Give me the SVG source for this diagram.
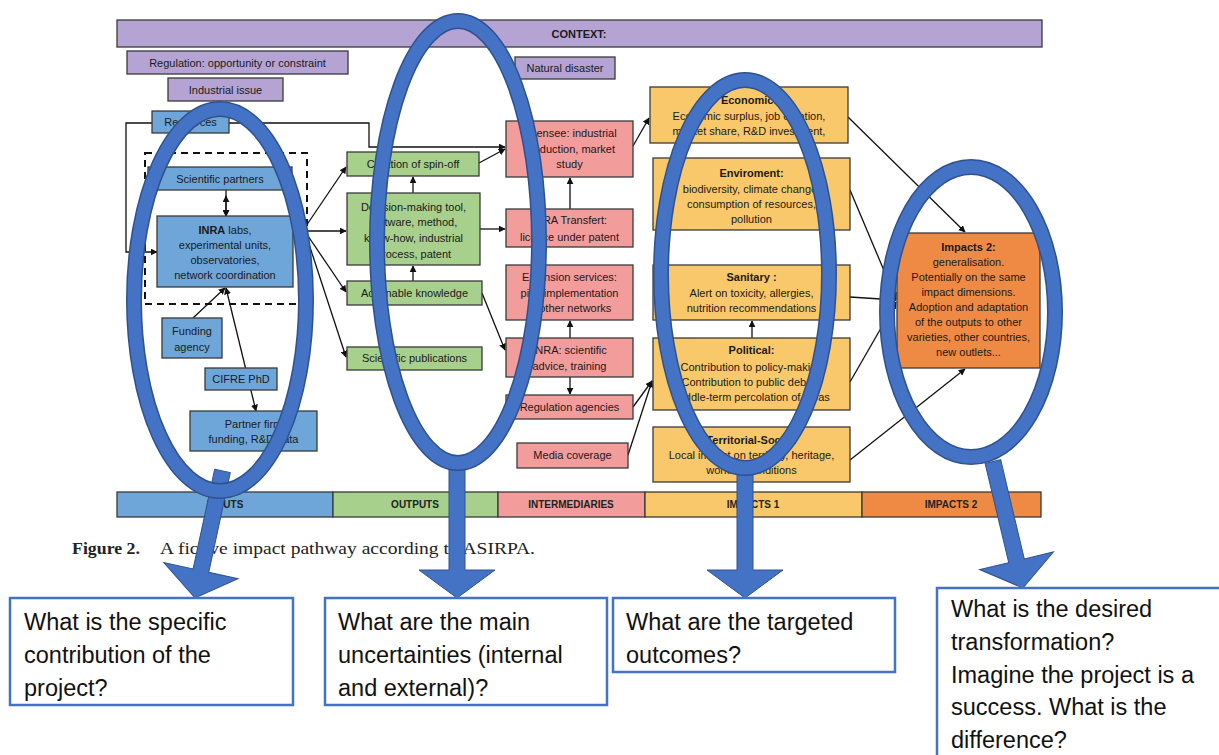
<svg xmlns="http://www.w3.org/2000/svg" width="1219" height="755" viewBox="0 0 1219 755">
<style>
.bx{stroke:#3a3a3a;stroke-width:1.3}
.pu{fill:#b5a3d4}.bl{fill:#6fa6d9}.gr{fill:#a7d08c}.pk{fill:#f29c9c}.ye{fill:#f9c86a}.or{fill:#ef8a44}
.t{font-family:"Liberation Sans",Arial,sans-serif;font-size:11px;fill:#1a1a1a;text-anchor:middle}
.b{font-weight:bold}
.bar{font-family:"Liberation Sans",Arial,sans-serif;font-size:10px;font-weight:bold;fill:#222;text-anchor:middle}
.cn{stroke:#111;stroke-width:1.3;fill:none;marker-end:url(#ah)}
.ln{stroke:#111;stroke-width:1.3;fill:none}
.q{font-family:"Liberation Sans",Arial,sans-serif;font-size:23.5px;fill:#111}
.qb{fill:#fff;stroke:#4472C4;stroke-width:2.5}
.ring{fill:none;stroke:#2f528f;stroke-width:16}
.ring2{fill:none;stroke:#4472C4;stroke-width:13}
.barr{fill:#4472C4;stroke:#2f528f;stroke-width:1}
</style>
<defs>
<marker id="ah" viewBox="0 0 10 10" refX="9" refY="5" markerWidth="7" markerHeight="7" orient="auto-start-reverse" markerUnits="userSpaceOnUse"><path d="M0,0 L10,5 L0,10 z" fill="#111"/></marker>
<polygon id="blk" points="-8,-130 8,-130 8,-28 38,-28 0,0 -38,-28 -8,-28"/>
</defs>
<rect width="1219" height="755" fill="#fff"/>

<g id="connectors">
<polyline class="cn" points="152,123 126,123 126,252 157,252"/>
<polyline class="cn" points="229,123 369,123 369,147 505,147"/>
<line class="cn" x1="226" y1="196" x2="226" y2="216" style="marker-start:url(#ah)"/>
<line class="cn" x1="226" y1="190" x2="226" y2="216"/>
<line class="cn" x1="193" y1="318" x2="225" y2="288"/>
<line class="cn" x1="256" y1="411" x2="226" y2="288" style="marker-start:url(#ah)"/>
<line class="ln" x1="293" y1="231" x2="306" y2="231"/>
<line class="cn" x1="306" y1="226" x2="346" y2="167"/>
<line class="cn" x1="306" y1="231" x2="346" y2="231"/>
<line class="cn" x1="306" y1="233" x2="346" y2="292"/>
<line class="cn" x1="306" y1="235" x2="346" y2="357"/>
<line class="cn" x1="479" y1="163" x2="505" y2="149"/>
<line class="cn" x1="413" y1="193" x2="413" y2="177"/>
<line class="cn" x1="413" y1="281" x2="413" y2="266"/>
<line class="cn" x1="480" y1="229" x2="505" y2="229"/>
<line class="cn" x1="482" y1="293" x2="505" y2="350"/>
<line class="cn" x1="570" y1="210" x2="570" y2="178"/>
<line class="cn" x1="570" y1="338" x2="570" y2="321"/>
<line class="cn" x1="570" y1="377" x2="570" y2="394"/>
<line class="cn" x1="633" y1="146" x2="649" y2="118"/>
<line class="cn" x1="633" y1="407" x2="652" y2="381"/>
<line class="cn" x1="628" y1="455" x2="652" y2="381"/>
<line class="cn" x1="752" y1="338" x2="752" y2="321"/>
<line class="cn" x1="848" y1="117" x2="965" y2="232"/>
<line class="cn" x1="850" y1="190" x2="896" y2="299"/>
<line class="cn" x1="850" y1="297" x2="896" y2="300"/>
<line class="cn" x1="850" y1="382" x2="896" y2="302"/>
<line class="cn" x1="850" y1="460" x2="965" y2="369"/>
</g>

<g id="context">
<rect class="bx pu" x="117" y="20" width="925" height="27"/>
<text class="t b" x="579" y="38">CONTEXT:</text>
</g>
<g id="regulation"><rect class="bx pu" x="127" y="51" width="221" height="23"/><text class="t" x="237.5" y="67">Regulation: opportunity or constraint</text></g>
<g id="industrial"><rect class="bx pu" x="168" y="78" width="115" height="23"/><text class="t" x="225.5" y="94">Industrial issue</text></g>
<g id="natural"><rect class="bx pu" x="515" y="57" width="100" height="22"/><text class="t" x="565" y="72">Natural disaster</text></g>

<rect x="145" y="153" width="162" height="151" fill="none" stroke="#111" stroke-width="2" stroke-dasharray="7 5"/>

<g id="resources"><rect class="bx bl" x="152" y="111" width="77" height="22"/><text class="t" x="190.5" y="126">Resources</text></g>
<g id="partners"><rect class="bx bl" x="148" y="167" width="144" height="23"/><text class="t" x="220" y="183">Scientific partners</text></g>
<g id="inra"><rect class="bx bl" x="157" y="216" width="136" height="71"/>
<text class="t" x="225" y="234"><tspan class="b">INRA</tspan> labs,</text>
<text class="t" x="225" y="249">experimental units,</text>
<text class="t" x="225" y="264">observatories,</text>
<text class="t" x="225" y="279">network coordination</text></g>
<g id="funding"><rect class="bx bl" x="162" y="318" width="60" height="40"/><text class="t" x="192" y="335">Funding</text><text class="t" x="192" y="351">agency</text></g>
<g id="cifre"><rect class="bx bl" x="205" y="368" width="72" height="22"/><text class="t" x="241" y="383">CIFRE PhD</text></g>
<g id="partnerfirm"><rect class="bx bl" x="190" y="411" width="127" height="40"/><text class="t" x="253.5" y="428">Partner firm</text><text class="t" x="253.5" y="443">funding, R&amp;D data</text></g>

<g id="spinoff"><rect class="bx gr" x="347" y="152" width="132" height="24"/><text class="t" x="413" y="168">Creation of spin-off</text></g>
<g id="dmt"><rect class="bx gr" x="347" y="193" width="133" height="72"/>
<text class="t" x="413.5" y="211">Decision-making tool,</text>
<text class="t" x="413.5" y="226">software, method,</text>
<text class="t" x="413.5" y="242">know-how, industrial</text>
<text class="t" x="413.5" y="258">process, patent</text></g>
<g id="actionable"><rect class="bx gr" x="347" y="281" width="135" height="24"/><text class="t" x="414.5" y="297">Actionable knowledge</text></g>
<g id="publications"><rect class="bx gr" x="347" y="347" width="135" height="23"/><text class="t" x="414.5" y="362">Scientific publications</text></g>

<g id="licensee"><rect class="bx pk" x="506" y="121" width="127" height="56"/>
<text class="t" x="569.5" y="137">Licensee: industrial</text>
<text class="t" x="569.5" y="153">production, market</text>
<text class="t" x="569.5" y="168">study</text></g>
<g id="transfert"><rect class="bx pk" x="506" y="209" width="127" height="38"/>
<text class="t" x="569.5" y="224">INRA Transfert:</text>
<text class="t" x="569.5" y="241">licence under patent</text></g>
<g id="extension"><rect class="bx pk" x="506" y="265" width="127" height="55"/>
<text class="t" x="569.5" y="281">Extension services:</text>
<text class="t" x="569.5" y="297">pilot implementation</text>
<text class="t" x="569.5" y="312">in other networks</text></g>
<g id="advice"><rect class="bx pk" x="506" y="338" width="127" height="39"/>
<text class="t" x="569.5" y="354">INRA: scientific</text>
<text class="t" x="569.5" y="370">advice, training</text></g>
<g id="agencies"><rect class="bx pk" x="506" y="395" width="127" height="24"/><text class="t" x="569.5" y="411">Regulation agencies</text></g>
<g id="media"><rect class="bx pk" x="517" y="443" width="111" height="25"/><text class="t" x="572.5" y="459">Media coverage</text></g>

<g id="economic"><rect class="bx ye" x="650" y="87" width="198" height="56"/>
<text class="t b" x="749" y="104">Economic:</text>
<text class="t" x="749" y="120">Economic surplus, job creation,</text>
<text class="t" x="749" y="135">market share, R&amp;D investment,</text></g>
<g id="environment"><rect class="bx ye" x="653" y="158" width="197" height="72"/>
<text class="t b" x="751.5" y="177">Enviroment:</text>
<text class="t" x="751.5" y="193">biodiversity, climate change,</text>
<text class="t" x="751.5" y="208">consumption of resources,</text>
<text class="t" x="751.5" y="223">pollution</text></g>
<g id="sanitary"><rect class="bx ye" x="653" y="265" width="197" height="55"/>
<text class="t b" x="751.5" y="281">Sanitary :</text>
<text class="t" x="751.5" y="297">Alert on toxicity, allergies,</text>
<text class="t" x="751.5" y="312">nutrition recommendations</text></g>
<g id="political"><rect class="bx ye" x="653" y="338" width="197" height="72"/>
<text class="t b" x="751.5" y="354">Political:</text>
<text class="t" x="751.5" y="371">Contribution to policy-making</text>
<text class="t" x="751.5" y="386">Contribution to public debate</text>
<text class="t" x="751.5" y="401">Middle-term percolation of ideas</text></g>
<g id="territorial"><rect class="bx ye" x="653" y="427" width="197" height="55"/>
<text class="t b" x="751.5" y="444">Territorial-Social:</text>
<text class="t" x="751.5" y="459">Local impact on territory, heritage,</text>
<text class="t" x="751.5" y="474">working conditions</text></g>

<g id="impacts2"><rect class="bx or" x="897" y="233" width="143" height="135"/>
<text class="t b" x="968.5" y="251">Impacts 2:</text>
<text class="t" x="968.5" y="266">generalisation.</text>
<text class="t" x="968.5" y="281">Potentially on the same</text>
<text class="t" x="968.5" y="296">impact dimensions.</text>
<text class="t" x="968.5" y="311">Adoption and adaptation</text>
<text class="t" x="968.5" y="326">of the outputs to other</text>
<text class="t" x="968.5" y="341">varieties, other countries,</text>
<text class="t" x="968.5" y="356">new outlets...</text></g>

<g id="stages">
<rect class="bx bl" x="117" y="492" width="216" height="25"/>
<rect class="bx gr" x="333" y="492" width="165" height="25"/>
<rect class="bx pk" x="498" y="492" width="147" height="25"/>
<rect class="bx ye" x="645" y="492" width="217" height="25"/>
<rect class="bx or" x="862" y="492" width="179" height="25"/>
<text class="bar" x="225" y="508">INPUTS</text>
<text class="bar" x="415" y="508">OUTPUTS</text>
<text class="bar" x="571" y="508">INTERMEDIARIES</text>
<text class="bar" x="753" y="508">IMPACTS 1</text>
<text class="bar" x="951" y="508">IMPACTS 2</text>
</g>

<g id="caption" font-family="'Liberation Serif','Times New Roman',serif" font-size="17" fill="#222">
<text x="72" y="554" font-weight="bold" textLength="68" lengthAdjust="spacingAndGlyphs">Figure 2.</text>
<text x="160" y="554" textLength="375" lengthAdjust="spacingAndGlyphs">A fictive impact pathway according to ASIRPA.</text>
</g>

<g id="highlights">
<use href="#blk" class="barr" transform="translate(195,598) rotate(12.2)"/>
<use href="#blk" class="barr" transform="translate(457,598)"/>
<use href="#blk" class="barr" transform="translate(745,598)"/>
<use href="#blk" class="barr" transform="translate(1023,588) rotate(-13.4)"/>
<ellipse class="ring" cx="220" cy="300" rx="86" ry="191"/>
<ellipse class="ring2" cx="220" cy="300" rx="86" ry="191"/>
<ellipse class="ring" cx="458" cy="242" rx="81" ry="221"/>
<ellipse class="ring2" cx="458" cy="242" rx="81" ry="221"/>
<ellipse class="ring" cx="745" cy="274" rx="84" ry="194"/>
<ellipse class="ring2" cx="745" cy="274" rx="84" ry="194"/>
<ellipse class="ring" cx="971" cy="312" rx="84" ry="145"/>
<ellipse class="ring2" cx="971" cy="312" rx="84" ry="145"/>
</g>

<g id="q1"><rect class="qb" x="10" y="598" width="283" height="107"/>
<text class="q" x="24" y="630">What is the specific</text>
<text class="q" x="24" y="663">contribution of the</text>
<text class="q" x="24" y="696">project?</text></g>
<g id="q2"><rect class="qb" x="325" y="598" width="282" height="107"/>
<text class="q" x="338" y="630">What are the main</text>
<text class="q" x="338" y="663">uncertainties (internal</text>
<text class="q" x="338" y="696">and external)?</text></g>
<g id="q3"><rect class="qb" x="613" y="598" width="282" height="74"/>
<text class="q" x="626" y="630">What are the targeted</text>
<text class="q" x="626" y="663">outcomes?</text></g>
<g id="q4"><rect class="qb" x="937" y="588" width="290" height="175"/>
<text class="q" x="951" y="617">What is the desired</text>
<text class="q" x="951" y="650">transformation?</text>
<text class="q" x="951" y="683">Imagine the project is a</text>
<text class="q" x="951" y="715">success. What is the</text>
<text class="q" x="951" y="748">difference?</text></g>
</svg>
